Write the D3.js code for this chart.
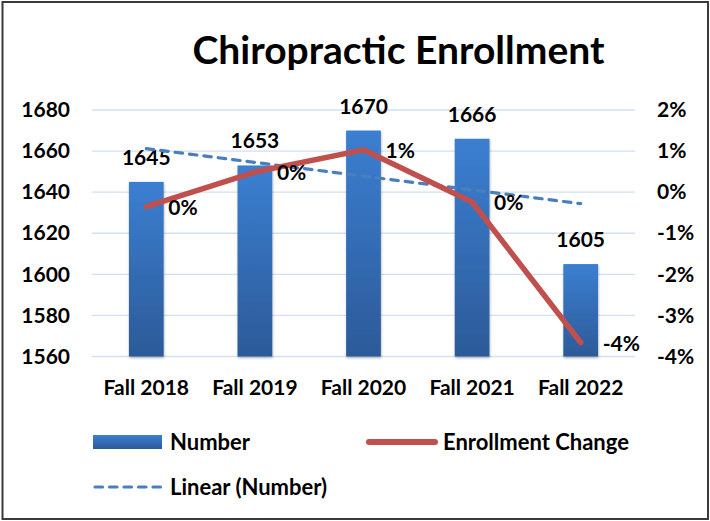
<!DOCTYPE html>
<html>
<head>
	<title>Chiropractic Enrollment</title>
	<script src="https://d3js.org/d3.v7.min.js"></script>
	<style>
		body { margin: 0; background: #fff; }
		text { font-family: Lato, "Open Sans", sans-serif; font-weight: bold; fill: #000; }
	</style>
</head>
<body>
	<div id="chart"></div>
	<script>
		// data
		var categories = ["Fall 2018", "Fall 2019", "Fall 2020", "Fall 2021", "Fall 2022"];
		var numbers = [1645, 1653, 1670, 1666, 1605];
		var changes = [-0.0035, 0.0049, 0.0103, -0.0024, -0.0366];
		var leftTicks = [1560, 1580, 1600, 1620, 1640, 1660, 1680];
		var rightTicks = [-0.04, -0.03, -0.02, -0.01, 0, 0.01, 0.02];

		var W = 710, H = 521;
		var plot = { left: 92, right: 635, top: 110, bottom: 356.5 };
		var fs = "21px";

		var svg = d3.select("#chart").append("svg")
			.attr("width", W)
			.attr("height", H);

		var defs = svg.append("defs");
		var grad = defs.append("linearGradient")
			.attr("id", "barGrad")
			.attr("x1", 0).attr("y1", 0).attr("x2", 0).attr("y2", 1);
		grad.append("stop").attr("offset", "0%").attr("stop-color", "#3b7fd1");
		grad.append("stop").attr("offset", "100%").attr("stop-color", "#2c5a98");

		var shadow = defs.append("filter").attr("id", "shadow")
			.attr("x", "-20%").attr("y", "-5%").attr("width", "140%").attr("height", "115%");
		shadow.append("feDropShadow")
			.attr("dx", 0.5).attr("dy", 1.5).attr("stdDeviation", 1.2)
			.attr("flood-color", "#000").attr("flood-opacity", 0.3);

		// frame
		svg.append("rect")
			.attr("x", 2.5).attr("y", 2)
			.attr("width", 705.5).attr("height", 517)
			.attr("fill", "none")
			.attr("stroke", "#3a3a3a")
			.attr("stroke-width", 2);

		// title
		svg.append("text")
			.attr("x", 398.5)
			.attr("y", 64)
			.attr("text-anchor", "middle")
			.style("font-size", "39px")
			.text("Chiropractic Enrollment");

		var x = d3.scaleBand()
			.domain(categories)
			.range([plot.left, plot.right])
			.paddingInner(0.68)
			.paddingOuter(0.34);

		var y = d3.scaleLinear()
			.domain([1560, 1680])
			.range([plot.bottom, plot.top]);

		var y2 = d3.scaleLinear()
			.domain([-0.04, 0.02])
			.range([plot.bottom, plot.top]);

		// gridlines
		svg.append("g")
			.selectAll("line")
			.data(leftTicks)
			.enter().append("line")
			.attr("x1", plot.left)
			.attr("x2", plot.right)
			.attr("y1", function (d) { return y(d); })
			.attr("y2", function (d) { return y(d); })
			.attr("stroke", "#d3dff2")
			.attr("stroke-width", 1.3);

		// left axis
		var yAxis = d3.axisLeft(y).tickValues(leftTicks).tickSize(0).tickPadding(22)
			.tickFormat(d3.format("d"));
		var gl = svg.append("g")
			.attr("transform", "translate(" + plot.left + ",0)")
			.call(yAxis);
		gl.select(".domain").remove();
		gl.selectAll("text").style("font-size", fs).attr("font-family", null);

		// right axis
		var yAxis2 = d3.axisRight(y2).tickValues(rightTicks).tickSize(0).tickPadding(22)
			.tickFormat(function (d) { return Math.round(d * 100) + "%"; });
		var gr = svg.append("g")
			.attr("transform", "translate(" + plot.right + ",0)")
			.call(yAxis2);
		gr.select(".domain").remove();
		gr.selectAll("text").style("font-size", fs).attr("font-family", null);

		// category axis
		var xAxis = d3.axisBottom(x).tickSize(0).tickPadding(24);
		var gx = svg.append("g")
			.attr("transform", "translate(0," + plot.bottom + ")")
			.call(xAxis);
		gx.select(".domain").remove();
		gx.selectAll("text").style("font-size", fs).attr("font-family", null);

		// bars
		var bars = svg.append("g").selectAll(".bar")
			.data(numbers)
			.enter();

		bars.append("rect")
			.attr("class", "bar")
			.attr("x", function (d, i) { return x(categories[i]); })
			.attr("y", function (d) { return y(d); })
			.attr("width", x.bandwidth())
			.attr("height", function (d) { return plot.bottom - y(d); })
			.attr("fill", "url(#barGrad)")
			.attr("filter", "url(#shadow)");

		bars.append("text")
			.attr("x", function (d, i) { return x(categories[i]) + x.bandwidth() / 2; })
			.attr("y", function (d) { return y(d) - 17; })
			.attr("text-anchor", "middle")
			.style("font-size", fs)
			.text(function (d) { return d; });

		// linear trend of the bars
		var n = numbers.length;
		var mx = d3.mean(numbers, function (d, i) { return i; });
		var my = d3.mean(numbers);
		var slope = d3.sum(numbers, function (d, i) { return (i - mx) * (d - my); }) /
			d3.sum(numbers, function (d, i) { return (i - mx) * (i - mx); });
		var trend = [0, n - 1].map(function (i) { return { i: i, v: my + slope * (i - mx) }; });

		var cx = function (i) { return x(categories[i]) + x.bandwidth() / 2; };

		svg.append("path")
			.datum(trend)
			.attr("fill", "none")
			.attr("stroke", "#4a7ebd")
			.attr("stroke-width", 3.2)
			.attr("stroke-dasharray", "7.5,7")
			.attr("stroke-linecap", "round")
			.attr("d", d3.line()
				.x(function (d) { return cx(d.i); })
				.y(function (d) { return y(d.v); }));

		// enrollment change line
		svg.append("path")
			.datum(changes)
			.attr("fill", "none")
			.attr("stroke", "#c0504d")
			.attr("stroke-width", 5.5)
			.attr("stroke-linecap", "round")
			.attr("stroke-linejoin", "round")
			.attr("d", d3.line()
				.x(function (d, i) { return cx(i); })
				.y(function (d) { return y2(d); }));

		svg.append("g").selectAll("text")
			.data(changes)
			.enter().append("text")
			.attr("x", function (d, i) { return cx(i) + 22; })
			.attr("y", function (d) { return y2(d) + 1; })
			.attr("dy", "0.35em")
			.style("font-size", fs)
			.text(function (d) { return Math.round(d * 100) + "%"; });

		// legend
		var lfs = "22px";
		var legend = svg.append("g");
		legend.append("rect")
			.attr("x", 93).attr("y", 435)
			.attr("width", 69).attr("height", 14)
			.attr("fill", "url(#barGrad)");
		legend.append("text")
			.attr("x", 170).attr("y", 442).attr("dy", "0.35em")
			.style("font-size", lfs)
			.text("Number");

		legend.append("line")
			.attr("x1", 369).attr("x2", 435)
			.attr("y1", 442).attr("y2", 442)
			.attr("stroke", "#c0504d")
			.attr("stroke-width", 6)
			.attr("stroke-linecap", "round");
		legend.append("text")
			.attr("x", 443).attr("y", 442).attr("dy", "0.35em")
			.style("font-size", lfs)
			.text("Enrollment Change");

		legend.append("line")
			.attr("x1", 95).attr("x2", 162)
			.attr("y1", 487).attr("y2", 487)
			.attr("stroke", "#4a7ebd")
			.attr("stroke-width", 3.2)
			.attr("stroke-dasharray", "7.5,7")
			.attr("stroke-linecap", "round");
		legend.append("text")
			.attr("x", 170).attr("y", 487).attr("dy", "0.35em")
			.style("font-size", lfs)
			.text("Linear (Number)");
	</script>
</body>
</html>
